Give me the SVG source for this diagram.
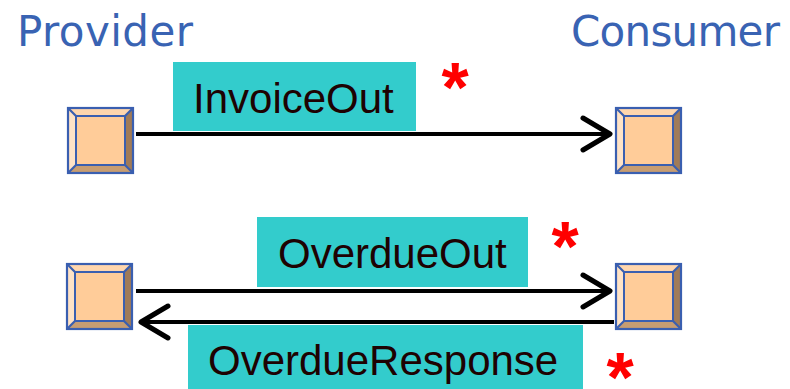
<svg xmlns="http://www.w3.org/2000/svg" width="790" height="389" viewBox="0 0 790 389">
<defs>
<style>
.title{font-family:"DejaVu Sans",Verdana,sans-serif;font-size:42px;fill:#3963b3}
.lbl{font-family:"Liberation Sans",Arial,sans-serif;font-size:42px;fill:#1e0202}
.lblbox{fill:#33cccc}
.star{font-family:"Liberation Sans",Arial,sans-serif;font-weight:bold;font-size:70px;fill:#ff0000}
.conn{stroke:#000;stroke-width:4;fill:none}
.face{fill:#ffcc99;stroke:#3a5fb0;stroke-width:2}
.bt{fill:#ffd6ad}
.bl{fill:#ffe3c6}
.br{fill:#a07b58}
.bb{fill:#c79d72}
.edge{fill:none;stroke:#3a5fb0;stroke-width:2.2}
</style>
<marker id="arr" markerUnits="userSpaceOnUse" markerWidth="40" markerHeight="40" viewBox="-34 -20 40 40" refX="0" refY="0" orient="auto">
<path d="M -27 -16 L 0 0 L -27 16" fill="none" stroke="#000" stroke-width="5" stroke-linecap="round" stroke-linejoin="round"/>
</marker>
<g id="port">
<path class="bt" d="M0 0 H65 L57 8 H8 Z"/>
<path class="bl" d="M0 0 L8 8 V57 L0 65 Z"/>
<path class="br" d="M65 0 V65 L57 57 V8 Z"/>
<path class="bb" d="M0 65 H65 L57 57 H8 Z"/>
<rect x="8" y="8" width="49" height="49" class="face"/>
<rect x="0" y="0" width="65" height="65" class="edge"/>
<path class="edge" d="M0 0 L8 8 M65 0 L57 8 M65 65 L57 57 M0 65 L8 57"/>
</g>
</defs>
<rect width="790" height="389" fill="#fff"/>
<text class="title" x="17" y="46" textLength="176">Provider</text>
<text class="title" x="571" y="46" textLength="209">Consumer</text>

<g id="provider-port-1"><use href="#port" x="68" y="108"/></g>
<g id="consumer-port-1"><use href="#port" x="616" y="108"/></g>
<g id="provider-port-2"><use href="#port" x="67" y="264"/></g>
<g id="consumer-port-2"><use href="#port" x="616" y="264"/></g>

<g id="connectors">
<line class="conn" x1="136" y1="134" x2="610" y2="134" marker-end="url(#arr)"/>
<line class="conn" x1="136" y1="291" x2="610" y2="291" marker-end="url(#arr)"/>
<line class="conn" x1="614" y1="322" x2="141" y2="322" marker-end="url(#arr)"/>
</g>

<g id="label-invoiceout">
<rect class="lblbox" x="173" y="62" width="243" height="69"/>
<text class="lbl" x="193" y="113">InvoiceOut</text>
<text class="star" x="455" y="112" text-anchor="middle">*</text>
</g>
<g id="label-overdueout">
<rect class="lblbox" x="257" y="217" width="271" height="70"/>
<text class="lbl" x="278" y="268">OverdueOut</text>
<text class="star" x="565" y="271" text-anchor="middle">*</text>
</g>
<g id="label-overdueresponse">
<rect class="lblbox" x="188" y="325" width="395" height="64"/>
<text class="lbl" x="208" y="375">OverdueResponse</text>
<text class="star" x="620" y="402" text-anchor="middle">*</text>
</g>
</svg>
